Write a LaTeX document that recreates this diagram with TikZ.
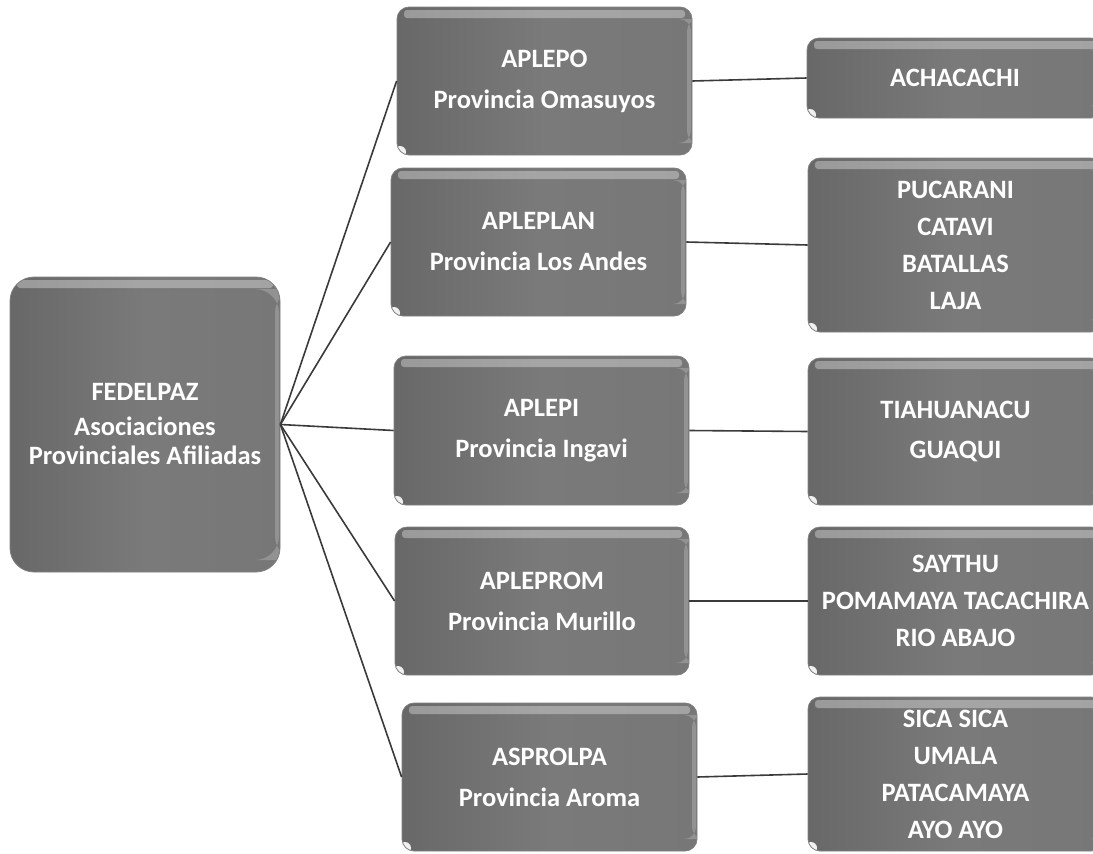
\documentclass[tikz,border=0pt]{standalone}
\usepackage{fontspec}
\setmainfont{Carlito}
\definecolor{boxmid}{HTML}{7A7A7A}
\definecolor{boxedge}{HTML}{686868}
\definecolor{linec}{HTML}{3A3A3A}
\begin{document}
\begin{tikzpicture}[x=1pt,y=-1pt,
  box/.style={rounded corners=12pt, draw=black!50, line width=0.8pt, inner sep=2pt,
    text=white, align=center, font=\fontsize{26.5}{30}\selectfont\bfseries,
    left color=boxedge, right color=boxedge!90!white, middle color=boxmid,
    path picture={
      \fill[white, opacity=0.33, rounded corners=3pt]
        ([xshift=7pt,yshift=-3pt]path picture bounding box.north west) rectangle
        ([xshift=-7pt,yshift=-11pt]path picture bounding box.north east);
      \fill[white, opacity=0.2]
        ([xshift=-5pt,yshift=12pt]path picture bounding box.south east) rectangle
        ([xshift=-1pt,yshift=-12pt]path picture bounding box.north east);
      \fill[white, opacity=0.9]
        ([xshift=3pt,yshift=3pt]path picture bounding box.south west) circle (6pt);
    }},
  bigbox/.style={box, rounded corners=24pt},
  link/.style={draw=linec, line width=1.6pt}]
\path[use as bounding box] (0,0) rectangle (1093,854);
\clip (0,0) rectangle (1093,854);

% root
\node[bigbox, minimum width=270pt, minimum height=295pt] (fed) at (145,424.5)
  {\mbox{}\\[-14pt]FEDELPAZ\\[5pt]Asociaciones\\[-1pt]Provinciales Afiliadas};

% provinces
\node[box, minimum width=295pt, minimum height=148pt] (aplepo) at (544.5,81)
  {APLEPO\\[11pt]Provincia Omasuyos};
\node[box, minimum width=295pt, minimum height=148pt] (apleplan) at (538.5,242)
  {APLEPLAN\\[11pt]Provincia Los Andes};
\node[box, minimum width=295pt, minimum height=149pt] (aplepi) at (541.5,430.5)
  {APLEPI\\[11pt]Provincia Ingavi};
\node[box, minimum width=294pt, minimum height=148pt] (apleprom) at (542,601)
  {APLEPROM\\[11pt]Provincia Murillo};
\node[box, minimum width=295pt, minimum height=148pt] (asprolpa) at (549.5,777)
  {ASPROLPA\\[11pt]Provincia Aroma};

% localities
\node[box, minimum width=296pt, minimum height=80pt] (achacachi) at (955,78)
  {ACHACACHI};
\node[box, minimum width=295pt, minimum height=174pt] (pucarani) at (955.5,245)
  {PUCARANI\\[7pt]CATAVI\\[7pt]BATALLAS\\[7pt]LAJA};
\node[box, minimum width=295pt, minimum height=147pt] (tiahuanacu) at (955.5,431.5)
  {TIAHUANACU\\[10pt]GUAQUI};
\node[box, minimum width=295pt, minimum height=148pt] (saythu) at (955.5,601)
  {SAYTHU\\[7pt]POMAMAYA TACACHIRA\\[7pt]RIO ABAJO};
\node[box, minimum width=295pt, minimum height=154pt] (sica) at (955.5,774)
  {SICA SICA\\[7pt]UMALA\\[7pt]PATACAMAYA\\[7pt]AYO AYO};

% connectors
\foreach \p in {aplepo,apleplan,aplepi,apleprom,asprolpa}
  \draw[link] (fed.east) -- (\p.west);
\draw[link] (aplepo.east) -- (achacachi.west);
\draw[link] (apleplan.east) -- (pucarani.west);
\draw[link] (aplepi.east) -- (tiahuanacu.west);
\draw[link] (apleprom.east) -- (saythu.west);
\draw[link] (asprolpa.east) -- (sica.west);
\end{tikzpicture}
\end{document}
